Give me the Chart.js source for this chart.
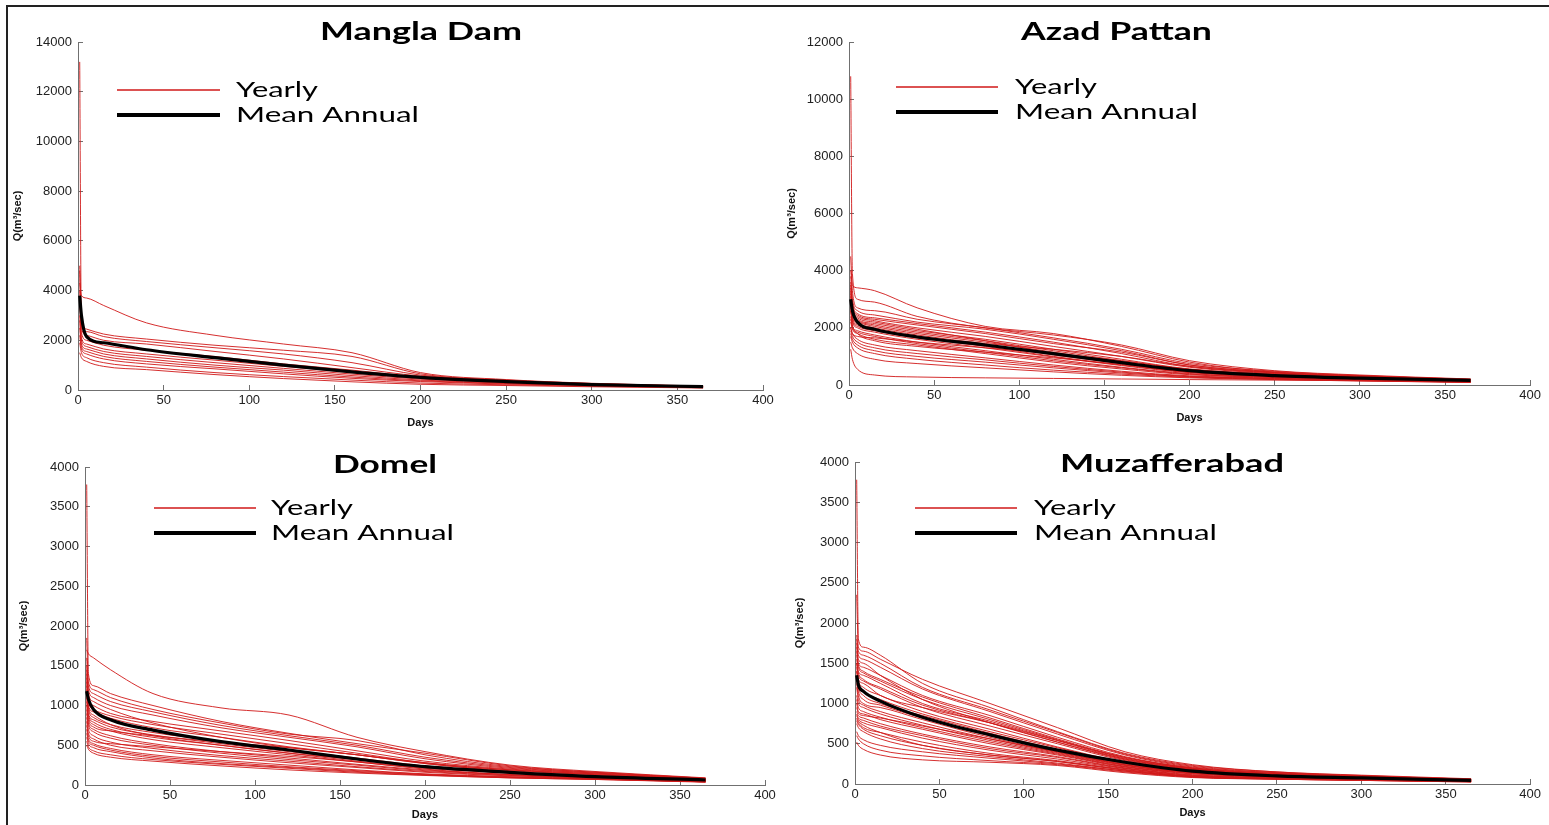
<!DOCTYPE html>
<html>
<head>
<meta charset="utf-8">
<script src="https://cdn.jsdelivr.net/npm/chart.js@4.4.1/dist/chart.umd.min.js"></script>
<style>
  html, body { margin: 0; padding: 0; background: #fff; }
  body { width: 1549px; height: 825px; position: relative; overflow: hidden; }
  .frame { position: absolute; left: 6px; top: 5px; right: -4px; bottom: -4px;
           border-top: 2px solid #222; border-left: 2px solid #222; }
  canvas { position: absolute; }
</style>
</head>
<body>
<div class="frame"></div>
<canvas id="mangla" width="790" height="432" style="left:0px;top:0px"></canvas>
<canvas id="azad" width="774" height="432" style="left:775px;top:0px"></canvas>
<canvas id="domel" width="790" height="395" style="left:0px;top:430px"></canvas>
<canvas id="muzaff" width="774" height="395" style="left:775px;top:430px"></canvas>
<script>
// exceedance days shared by every flow duration curve
const days = [1, 2, 5, 15, 40, 80, 120, 160, 200, 250, 300, 365];

// Mangla Dam, Q in m3/s
const manglaMean = [3800, 3000, 2150, 1900, 1620, 1300, 1000, 730, 510, 340, 220, 135];
const manglaYearly = [
  [4300, 3800, 3700, 3400, 2700, 2200, 1850, 1500, 700, 420, 270, 160],
  [5000, 2800, 2450, 2250, 2050, 1800, 1600, 1350, 650, 400, 260, 150],
  [13200, 2600, 2350, 2150, 1950, 1700, 1450, 1100, 600, 380, 250, 150],
  [4800, 2500, 2200, 2000, 1850, 1550, 1250, 900, 560, 360, 240, 140],
  [4000, 2300, 2000, 1800, 1600, 1350, 1050, 800, 520, 340, 230, 140],
  [3500, 2100, 1850, 1650, 1450, 1200, 950, 700, 480, 320, 220, 130],
  [3000, 2000, 1750, 1550, 1350, 1100, 870, 640, 440, 300, 210, 120],
  [2800, 1850, 1650, 1450, 1250, 1000, 800, 580, 400, 280, 200, 120],
  [2500, 1750, 1550, 1350, 1150, 920, 720, 520, 370, 260, 190, 110],
  [2200, 1650, 1450, 1250, 1050, 850, 650, 470, 340, 240, 180, 100],
  [1900, 1500, 1300, 1100, 920, 700, 540, 400, 280, 210, 150, 90],
  [1500, 1300, 1150, 950, 820, 620, 460, 330, 230, 180, 130, 80]
];

// Azad Pattan
const azadMean = [3000, 2600, 2200, 1950, 1680, 1400, 1100, 780, 500, 330, 240, 160];
const azadYearly = [
  [4000, 3500, 3400, 3300, 2700, 2050, 1800, 1350, 800, 450, 320, 200],
  [10800, 3900, 3000, 2900, 2400, 2000, 1750, 1400, 850, 500, 350, 210],
  [4500, 3300, 2700, 2600, 2300, 2000, 1650, 1250, 750, 480, 330, 200],
  [3800, 3000, 2600, 2450, 2200, 1950, 1600, 1200, 700, 450, 320, 190],
  [3600, 2900, 2500, 2350, 2150, 1850, 1500, 1100, 650, 430, 300, 180],
  [3500, 2800, 2450, 2300, 2100, 1800, 1450, 1150, 700, 440, 310, 190],
  [3400, 2700, 2400, 2250, 2000, 1700, 1350, 1000, 620, 400, 290, 180],
  [3300, 2650, 2350, 2200, 1950, 1550, 1100, 750, 450, 320, 240, 150],
  [3200, 2600, 2300, 2150, 1900, 1600, 1250, 900, 560, 380, 270, 170],
  [3100, 2500, 2250, 2100, 1850, 1550, 1200, 850, 540, 360, 260, 160],
  [3000, 2400, 2200, 2050, 1800, 1500, 1150, 800, 520, 350, 250, 160],
  [2900, 2350, 2150, 2000, 1750, 1450, 1250, 1000, 650, 420, 300, 190],
  [2800, 2300, 2100, 1950, 1700, 1400, 1050, 750, 460, 320, 240, 150],
  [2700, 2250, 2050, 1900, 1650, 1350, 1000, 700, 450, 310, 230, 140],
  [2600, 2200, 2000, 1850, 1600, 1300, 980, 680, 430, 300, 220, 140],
  [2000, 1800, 1700, 1650, 1500, 1300, 1100, 850, 550, 380, 270, 170],
  [2400, 2050, 1900, 1750, 1500, 1200, 900, 620, 400, 280, 210, 130],
  [2300, 2000, 1850, 1700, 1450, 1150, 850, 600, 380, 270, 200, 120],
  [2200, 1950, 1800, 1600, 1400, 1100, 800, 560, 360, 260, 190, 120],
  [2600, 2100, 1800, 1550, 1350, 1150, 950, 720, 480, 300, 200, 120],
  [2000, 1800, 1600, 1400, 1200, 950, 700, 480, 320, 240, 170, 110],
  [1900, 1700, 1500, 1300, 1100, 880, 650, 450, 300, 230, 170, 100],
  [1800, 1600, 1400, 1200, 1000, 800, 600, 420, 290, 220, 160, 100],
  [1700, 1500, 1300, 1100, 900, 700, 520, 380, 270, 200, 150, 90],
  [1500, 1300, 1100, 900, 750, 600, 460, 340, 250, 190, 140, 90],
  [1250, 900, 550, 350, 280, 250, 230, 210, 190, 170, 150, 120]
];

// Domel
const domelMean = [1180, 1080, 950, 820, 690, 545, 440, 327, 230, 160, 105, 63];
const domelYearly = [
  [1700, 1650, 1600, 1450, 1150, 970, 880, 600, 420, 250, 170, 90],
  [3780, 1400, 1250, 1150, 1000, 800, 650, 520, 400, 240, 160, 85],
  [1850, 1300, 1200, 1100, 950, 780, 640, 560, 380, 230, 160, 85],
  [1600, 1250, 1150, 1050, 920, 750, 620, 500, 350, 220, 150, 80],
  [1500, 1200, 1100, 1000, 880, 720, 600, 480, 330, 210, 150, 80],
  [1450, 1150, 1050, 950, 780, 600, 470, 380, 280, 190, 140, 75],
  [1400, 1100, 1000, 900, 800, 680, 560, 430, 300, 200, 140, 75],
  [1350, 1050, 950, 870, 760, 640, 520, 400, 280, 190, 130, 70],
  [1300, 1000, 920, 840, 720, 600, 480, 380, 270, 180, 130, 70],
  [1250, 980, 880, 760, 620, 500, 400, 320, 230, 150, 110, 60],
  [1200, 950, 850, 760, 660, 550, 440, 340, 240, 160, 120, 65],
  [1150, 900, 820, 730, 630, 520, 420, 320, 230, 160, 110, 60],
  [1100, 880, 790, 700, 600, 500, 400, 300, 220, 150, 110, 60],
  [1050, 850, 760, 680, 570, 470, 380, 290, 210, 150, 100, 55],
  [1000, 820, 730, 680, 620, 540, 470, 380, 270, 170, 110, 60],
  [950, 780, 700, 620, 520, 420, 340, 260, 190, 130, 95, 50],
  [900, 750, 670, 590, 500, 400, 320, 250, 180, 130, 90, 50],
  [850, 700, 620, 540, 460, 370, 300, 230, 170, 120, 90, 50],
  [800, 650, 580, 500, 430, 350, 280, 220, 160, 115, 85, 45],
  [750, 620, 550, 520, 480, 420, 360, 290, 200, 130, 90, 50],
  [700, 580, 520, 460, 380, 310, 250, 190, 140, 105, 80, 40],
  [650, 550, 500, 440, 360, 290, 230, 180, 135, 100, 75, 40],
  [600, 520, 470, 420, 340, 270, 220, 170, 130, 95, 75, 40],
  [550, 480, 430, 380, 320, 260, 210, 160, 125, 90, 70, 40],
  [500, 450, 400, 350, 300, 240, 190, 150, 120, 90, 70, 35]
];

// Muzafferabad
const muzaffMean = [1350, 1230, 1150, 1030, 830, 610, 420, 270, 160, 100, 75, 45];
const muzaffYearly = [
  [3780, 1800, 1700, 1600, 1250, 950, 650, 380, 230, 150, 110, 65],
  [2350, 1700, 1650, 1550, 1300, 1000, 700, 400, 240, 150, 105, 60],
  [1850, 1650, 1600, 1500, 1200, 920, 640, 370, 220, 140, 100, 60],
  [1800, 1600, 1550, 1450, 1180, 900, 620, 360, 210, 140, 100, 60],
  [1750, 1550, 1500, 1350, 1050, 760, 520, 310, 190, 125, 90, 55],
  [1700, 1500, 1450, 1350, 1100, 850, 580, 340, 200, 130, 95, 55],
  [1650, 1480, 1400, 1300, 1080, 820, 560, 330, 195, 125, 90, 55],
  [1600, 1450, 1380, 1280, 1050, 800, 550, 320, 190, 120, 90, 50],
  [1550, 1400, 1350, 1250, 1000, 780, 540, 310, 185, 120, 85, 50],
  [1500, 1380, 1300, 1200, 980, 760, 520, 300, 180, 115, 85, 50],
  [1500, 1350, 1280, 1180, 950, 720, 500, 290, 175, 110, 80, 50],
  [1450, 1300, 1250, 1100, 950, 760, 540, 330, 200, 130, 90, 50],
  [1400, 1280, 1200, 1100, 900, 680, 460, 270, 165, 105, 80, 45],
  [1400, 1250, 1150, 1050, 870, 650, 450, 260, 160, 100, 75, 45],
  [1350, 1200, 1100, 1000, 850, 630, 430, 250, 155, 100, 75, 45],
  [1300, 1150, 1050, 980, 820, 600, 420, 240, 150, 95, 70, 40],
  [1250, 1100, 1000, 950, 800, 580, 400, 235, 145, 95, 70, 40],
  [1200, 1050, 980, 900, 760, 560, 390, 230, 140, 90, 70, 40],
  [1100, 1000, 950, 870, 730, 540, 380, 220, 135, 90, 65, 40],
  [1050, 950, 900, 830, 700, 520, 370, 215, 130, 85, 65, 40],
  [1000, 900, 870, 800, 680, 500, 360, 210, 125, 85, 60, 35],
  [950, 880, 850, 820, 720, 560, 400, 240, 140, 90, 65, 40],
  [900, 850, 820, 750, 620, 460, 340, 200, 115, 80, 60, 35],
  [870, 820, 790, 720, 600, 440, 330, 195, 110, 75, 55, 35],
  [850, 800, 760, 700, 570, 420, 310, 190, 105, 75, 55, 30],
  [820, 780, 730, 640, 480, 360, 280, 175, 100, 70, 55, 30],
  [800, 760, 700, 640, 520, 380, 290, 180, 95, 70, 50, 30],
  [780, 740, 680, 600, 480, 360, 280, 170, 90, 65, 50, 30],
  [750, 700, 650, 560, 440, 340, 260, 160, 90, 65, 50, 30],
  [650, 600, 550, 480, 400, 320, 250, 160, 90, 60, 45, 30],
  [600, 560, 500, 420, 350, 290, 240, 150, 85, 60, 45, 25],
  [520, 480, 430, 360, 300, 270, 230, 140, 80, 60, 45, 25]
];

// draw text squeezed/stretched to a given width
function fitText(ctx, text, x, y, width, font) {
  ctx.font = font;
  const w = ctx.measureText(text).width;
  ctx.save();
  ctx.translate(x, y);
  ctx.scale(width / w, 1);
  ctx.fillText(text, 0, 0);
  ctx.restore();
}

function toPoints(row) {
  return row.map((v, i) => ({ x: days[i], y: v }));
}

function makePanel(id, p) {
  const canvas = document.getElementById(id);
  const left = parseFloat(canvas.style.left);
  const top = parseFloat(canvas.style.top);

  const datasets = [{
    data: toPoints(p.mean),
    borderColor: '#000',
    borderWidth: 3.2
  }].concat(p.yearly.map(row => ({
    data: toPoints(row),
    borderColor: 'rgba(208,24,24,0.9)',
    borderWidth: 1
  })));

  const axisColor = '#707070';
  const tickFont = { family: 'Liberation Sans, Arial, sans-serif', size: 13 };
  const titleFont = { family: 'Liberation Sans, Arial, sans-serif', size: 11, weight: 'bold' };

  const textPlugin = {
    id: 'panelText',
    afterDraw(chart) {
      const ctx = chart.ctx;
      ctx.save();
      ctx.fillStyle = '#000';
      ctx.textBaseline = 'alphabetic';
      ctx.textAlign = 'left';
      fitText(ctx, p.title, p.titleX1 - left, p.titleBase - top, p.titleX2 - p.titleX1,
        'bold 24px Lato, "Open Sans", sans-serif');

      ctx.lineCap = 'butt';
      ctx.strokeStyle = 'rgb(208,24,24)';
      ctx.lineWidth = 1.5;
      ctx.beginPath();
      ctx.moveTo(p.legX1 - left, p.legY - top);
      ctx.lineTo(p.legX2 - left, p.legY - top);
      ctx.stroke();
      ctx.strokeStyle = '#000';
      ctx.lineWidth = 4;
      ctx.beginPath();
      ctx.moveTo(p.legX1 - left, p.legY + 25 - top);
      ctx.lineTo(p.legX2 - left, p.legY + 25 - top);
      ctx.stroke();

      fitText(ctx, 'Yearly', p.legTX - left, p.legY + 7 - top, 82, '22px Lato, "Open Sans", sans-serif');
      fitText(ctx, 'Mean Annual', p.legTX - left, p.legY + 32 - top, 183, '22px Lato, "Open Sans", sans-serif');
      ctx.restore();
    }
  };

  new Chart(canvas, {
    type: 'line',
    data: { datasets },
    options: {
      responsive: false,
      animation: false,
      events: [],
      layout: {
        padding: { left: 0, bottom: 0, top: p.areaT - top, right: canvas.width - (p.areaR - left) }
      },
      elements: {
        point: { radius: 0 },
        line: { cubicInterpolationMode: 'monotone' }
      },
      plugins: { legend: { display: false }, tooltip: { enabled: false } },
      scales: {
        x: {
          type: 'linear',
          min: 0,
          max: 400,
          border: { display: true, color: axisColor, width: 1 },
          grid: { drawOnChartArea: false, drawTicks: true, tickLength: -5, color: axisColor },
          ticks: { stepSize: 50, maxRotation: 0, autoSkip: false, padding: 8, color: '#222',
                   font: tickFont, callback: v => String(v) },
          title: { display: true, text: 'Days', color: '#111', font: titleFont,
                   padding: { top: 0, bottom: canvas.height - (p.daysY - top) - 6.6 } },
          afterFit: s => { s.height = canvas.height - (p.areaB - top); }
        },
        y: {
          min: 0,
          max: p.yMax,
          border: { display: true, color: axisColor, width: 1 },
          grid: { drawOnChartArea: false, drawTicks: true, tickLength: -5, color: axisColor },
          ticks: { stepSize: p.yStep, padding: 11, color: '#222', font: tickFont,
                   callback: v => String(v) },
          title: { display: true, text: 'Q(m³/sec)', color: '#111', font: titleFont,
                   padding: { top: p.qX - left - 6.6, bottom: 0 } },
          afterFit: s => { s.width = p.areaL - left; }
        }
      }
    },
    plugins: [textPlugin]
  });
}

makePanel('mangla', {
  title: 'Mangla Dam', titleX1: 320, titleX2: 522, titleBase: 40,
  legX1: 117, legX2: 220, legY: 90, legTX: 236,
  areaL: 78, areaR: 763, areaT: 42, areaB: 390,
  yMax: 14000, yStep: 2000, daysY: 423, qX: 18,
  mean: manglaMean, yearly: manglaYearly
});

makePanel('azad', {
  title: 'Azad Pattan', titleX1: 1021, titleX2: 1212, titleBase: 40,
  legX1: 896, legX2: 998, legY: 87, legTX: 1015,
  areaL: 849, areaR: 1531, areaT: 42, areaB: 385,
  yMax: 12000, yStep: 2000, daysY: 418, qX: 792,
  mean: azadMean, yearly: azadYearly
});

makePanel('domel', {
  title: 'Domel', titleX1: 333, titleX2: 437, titleBase: 473,
  legX1: 154, legX2: 256, legY: 508, legTX: 271,
  areaL: 85, areaR: 765, areaT: 467, areaB: 785,
  yMax: 4000, yStep: 500, daysY: 815, qX: 24,
  mean: domelMean, yearly: domelYearly
});

makePanel('muzaff', {
  title: 'Muzafferabad', titleX1: 1060, titleX2: 1284, titleBase: 472,
  legX1: 915, legX2: 1017, legY: 508, legTX: 1034,
  areaL: 855, areaR: 1537, areaT: 462, areaB: 784,
  yMax: 4000, yStep: 500, daysY: 813, qX: 800,
  mean: muzaffMean, yearly: muzaffYearly
});
</script>
</body>
</html>
